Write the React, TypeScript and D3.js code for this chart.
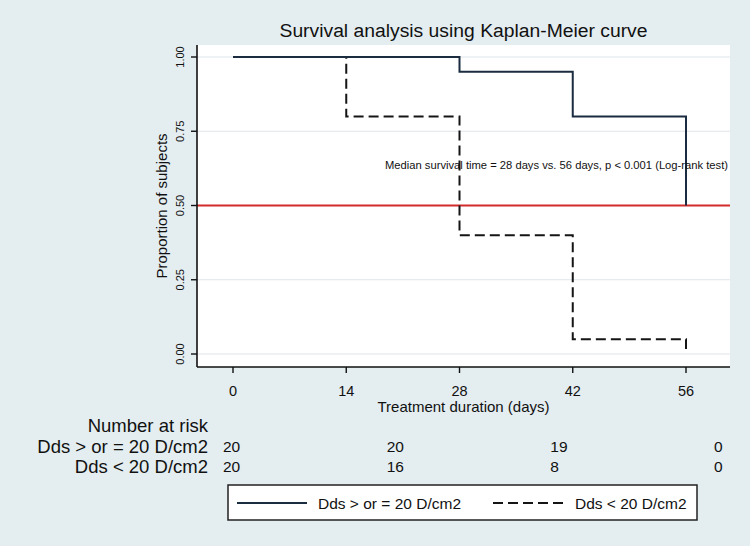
import React from "react";
import * as d3 from "d3";

const title = "Survival analysis using Kaplan-Meier curve";
const xTitle = "Treatment duration (days)";
const yTitle = "Proportion of subjects";
const timeTicks = [0, 14, 28, 42, 56];
const yTicks = [0, 0.25, 0.5, 0.75, 1];
const yTickLabels = ["0.00", "0.25", "0.50", "0.75", "1.00"];

const highTimes = [0, 28, 42, 56];
const highSurv = [1, 0.95, 0.8, 0.5];
const lowTimes = [0, 14, 28, 42, 56];
const lowSurv = [1, 0.8, 0.4, 0.05, 0];

const medianLevel = 0.5;
const annotation = "Median survival time = 28 days vs. 56 days, p < 0.001 (Log-rank test)";

const riskTitle = "Number at risk";
const groupNames = ["Dds > or = 20 D/cm2", "Dds < 20 D/cm2"];
const riskHigh = [20, 20, 19, 0];
const riskLow = [20, 16, 8, 0];

const W = 750;
const H = 546;
const FONT = "'Liberation Sans', Arial, sans-serif";
const BG = "#e4edf0";
const NAVY = "#1b2c40";
const DARK = "#151515";

export default function App() {
  const plotL = 197, plotR = 730, plotT = 45, plotB = 367;
  const x = d3.scaleLinear().domain([0, 56]).range([233, 686]);
  const y = d3.scaleLinear().domain([0, 1]).range([354, 57]);
  const riskX = d3.scaleLinear().domain([0, 3]).range([223, 714]);

  const line = d3
    .line<[number, number]>()
    .x((d) => x(d[0]))
    .y((d) => y(d[1]))
    .curve(d3.curveStepAfter);

  const highPts = highTimes.map((t, i) => [t, highSurv[i]] as [number, number]);
  const lowPts = lowTimes.map((t, i) => [t, lowSurv[i]] as [number, number]);

  const riskRows = [riskHigh, riskLow];

  return (
    <div style={{ position: "fixed", left: 0, top: 0 }}>
      <svg width={W} height={H} style={{ display: "block", fontFamily: FONT }}>
        <rect x={0} y={0} width={W} height={H} fill={BG} />
        <rect x={plotL} y={plotT} width={plotR - plotL} height={plotB - plotT} fill="#ffffff" />

        {yTicks.map((t) => (
          <line key={"g" + t} x1={plotL} x2={plotR} y1={y(t)} y2={y(t)} stroke="#dfe5e9" strokeWidth={1.2} />
        ))}

        <line x1={plotL} x2={plotR} y1={y(medianLevel)} y2={y(medianLevel)} stroke="#d42b2b" strokeWidth={2} />

        <path d={line(lowPts) || ""} fill="none" stroke={DARK} strokeWidth={2} strokeDasharray="10,5" />
        <path d={line(highPts) || ""} fill="none" stroke={NAVY} strokeWidth={2} />

        <text x={385} y={169} fontSize={11.5} fill="#111" textLength={343} lengthAdjust="spacingAndGlyphs">
          {annotation}
        </text>

        {/* axes */}
        <line x1={plotL} x2={plotL} y1={plotT} y2={plotB} stroke="#111" strokeWidth={1.6} />
        <line x1={plotL} x2={plotR} y1={plotB} y2={plotB} stroke="#111" strokeWidth={1.6} />

        {yTicks.map((t, i) => (
          <g key={"yt" + t}>
            <line x1={plotL - 6} x2={plotL} y1={y(t)} y2={y(t)} stroke="#111" strokeWidth={1.4} />
            <text
              transform={`translate(184,${y(t)}) rotate(-90)`}
              textAnchor="middle"
              fontSize={11}
              fill="#111"
            >
              {yTickLabels[i]}
            </text>
          </g>
        ))}

        {timeTicks.map((t) => (
          <g key={"xt" + t}>
            <line x1={x(t)} x2={x(t)} y1={plotB} y2={plotB + 6} stroke="#111" strokeWidth={1.4} />
            <text x={x(t)} y={396} textAnchor="middle" fontSize={14.5} fill="#111">
              {t}
            </text>
          </g>
        ))}

        <text x={(plotL + plotR) / 2} y={412} textAnchor="middle" fontSize={15} fill="#111">
          {xTitle}
        </text>
        <text
          transform={`translate(167,${(plotT + plotB) / 2}) rotate(-90)`}
          textAnchor="middle"
          fontSize={15}
          fill="#111"
        >
          {yTitle}
        </text>

        <text x={(plotL + plotR) / 2} y={37} textAnchor="middle" fontSize={18} fill="#111" textLength={368} lengthAdjust="spacingAndGlyphs">
          {title}
        </text>

        {/* number at risk */}
        <text x={208} y={432} textAnchor="end" fontSize={18.5} fill="#111">
          {riskTitle}
        </text>
        {groupNames.map((g, gi) => (
          <g key={g}>
            <text x={208} y={453 + gi * 20} textAnchor="end" fontSize={18.5} fill="#111">
              {g}
            </text>
            {riskRows[gi].map((v, ci) => (
              <text key={ci} x={riskX(ci)} y={452 + gi * 20} fontSize={15.5} fill="#111">
                {v}
              </text>
            ))}
          </g>
        ))}

        {/* legend */}
        <rect x={228} y={485} width={697 - 228} height={520 - 485} fill="#ffffff" stroke="#222" strokeWidth={1.5} />
        <line x1={237} x2={307} y1={503} y2={503} stroke={NAVY} strokeWidth={2} />
        <text x={318} y={509} fontSize={15.5} fill="#111">
          {groupNames[0]}
        </text>
        <line x1={493} x2={565} y1={503} y2={503} stroke={DARK} strokeWidth={2} strokeDasharray="10,5" />
        <text x={575} y={509} fontSize={15.5} fill="#111">
          {groupNames[1]}
        </text>
      </svg>
    </div>
  );
}
